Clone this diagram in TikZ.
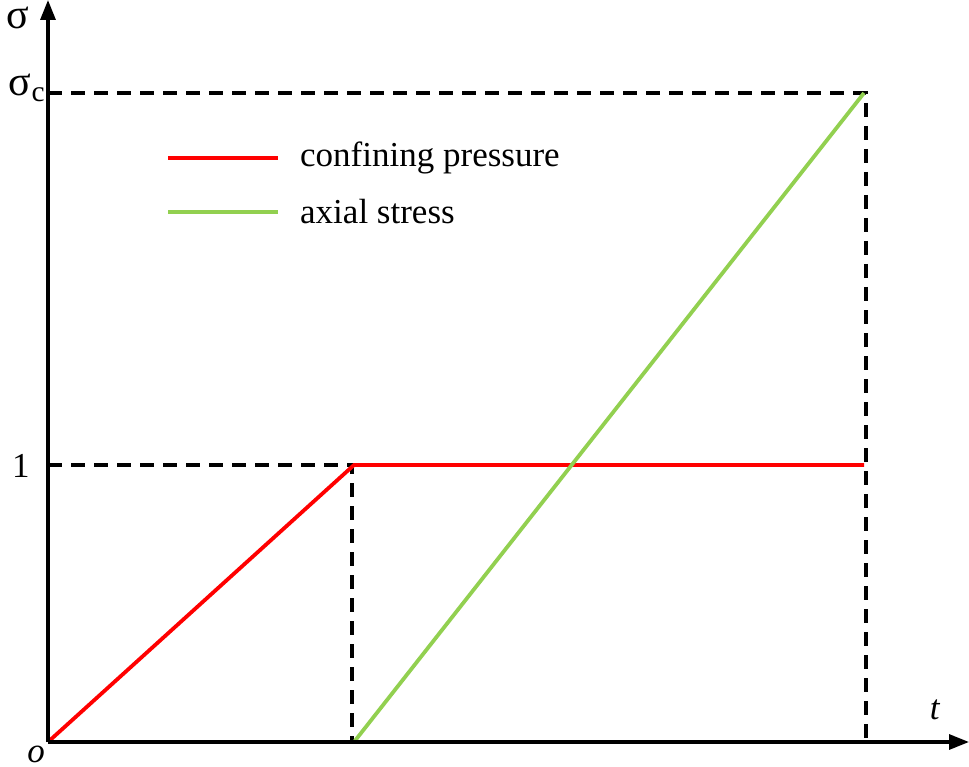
\documentclass[tikz,border=0pt]{standalone}
\usepackage{fontspec}
\setmainfont{Liberation Serif}
\usetikzlibrary{arrows.meta}
\begin{document}
\begin{tikzpicture}[x=1pt,y=-1pt,
  ax/.style={line width=3.2pt,-{Triangle[length=20pt,width=15pt]}},
  dsh/.style={line width=3.2pt,dash pattern=on 14pt off 9pt},
  red/.style={line width=3.8pt,draw={rgb,255:red,255;green,0;blue,0}},
  grn/.style={line width=3.8pt,draw={rgb,255:red,146;green,208;blue,80}},
  lab/.style={font=\fontsize{35}{40}\selectfont,inner sep=0pt}]
\useasboundingbox (0,0) rectangle (969,767);
\coordinate (O) at (48,742);
\coordinate (Ytop) at (48,0);
\coordinate (Xend) at (969,742);
\coordinate (A) at (354,465);
\coordinate (B) at (864,465);
\coordinate (C) at (354,742);
\coordinate (D) at (864,93);
\coordinate (S1) at (48,465);
\coordinate (Sc) at (48,93);
\coordinate (Db) at (866,742);
\coordinate (Dt) at (866,93);
\draw[dsh] (Sc) -- (Dt) -- (Db);
\draw[dsh] (S1) -- (352,465) -- (352,742);
\draw[red] (O) -- (A) -- (B);
\draw[grn] (C) -- (D);
\draw[ax] (O) -- (Ytop);
\draw[ax] (O) -- (Xend);
\node[lab,font=\fontsize{42}{46}\selectfont] (sig) at (18,18) {σ};
\node[lab,font=\fontsize{42}{46}\selectfont] (sigc) at (27,88) {σ\textsubscript{c}};
\node[lab] (one) at (21,466) {1};
\node[lab] (t) at (935,710) {\textit{t}};
\node[lab] (o) at (36,754) {\textit{o}};
\draw[red] (168,158) -- (278,158);
\node[lab,anchor=west] (l1) at (300,158) {confining pressure};
\draw[grn] (168,212) -- (278,212);
\node[lab,anchor=west] (l2) at (300,212) {axial stress};
\end{tikzpicture}
\end{document}
